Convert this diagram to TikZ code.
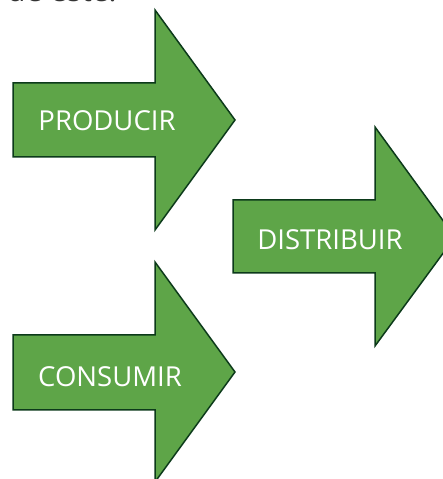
\documentclass[tikz,border=0pt]{standalone}
\usepackage{fontspec}
\setmainfont{Open Sans}
\usepackage{xcolor}
\usepackage{tikz}
\usetikzlibrary{positioning}

\definecolor{hoja}{RGB}{94,165,72}
\definecolor{borde}{RGB}{12,58,26}
\tikzset{
  flecha/.style={fill=hoja,draw=borde,line width=1.5pt,line join=miter},
  rotulo/.style={text=white,font=\fontsize{27.5}{32}\selectfont,inner sep=0pt}
}

\begin{document}
\begin{tikzpicture}[x=1pt,y=1pt]
\useasboundingbox (0,0) rectangle (443,479);
\clip (0,0) rectangle (443,479);
% texto cortado arriba
\node[anchor=base west,text=black!80,font=\fontsize{30}{34}\selectfont,inner sep=0pt] (titulo) at (7,477.5) {de este:};
% flechas
\draw[flecha] (13,396) -- (155,396) -- (155,469) -- (235,359) -- (155,249) -- (155,322) -- (13,322) -- cycle;
\draw[flecha] (233,279) -- (375,279) -- (375,352) -- (455,242) -- (375,133) -- (375,206) -- (233,206) -- cycle;
\draw[flecha] (13,144) -- (155,144) -- (155,217) -- (235,107) -- (155,-3) -- (155,69) -- (13,69) -- cycle;
% textos
\node[rotulo] (producir) at (107,358) {PRODUCIR};
\node[rotulo] (distribuir) at (330,239) {DISTRIBUIR};
\node[rotulo] (consumir) at (110,102) {CONSUMIR};
\end{tikzpicture}
\end{document}
